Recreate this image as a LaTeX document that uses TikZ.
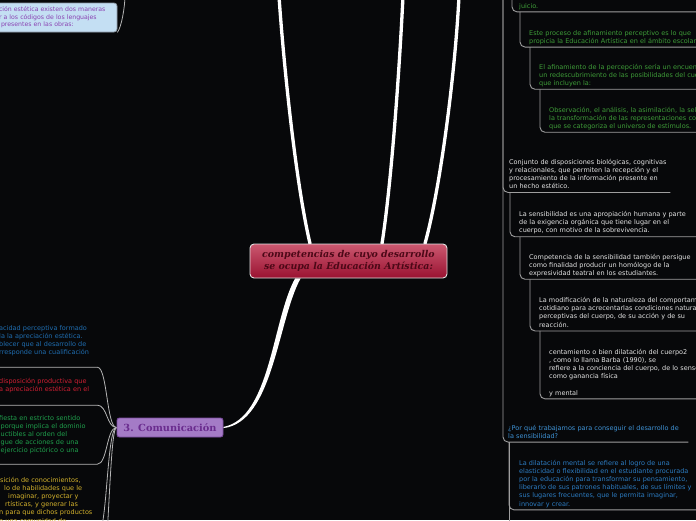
\documentclass[tikz,border=0pt]{standalone}
\usepackage{fontspec}
\setmainfont{DejaVu Sans}
\newfontfamily\dvserif{DejaVu Serif}
\usetikzlibrary{calc}
\definecolor{bg}{HTML}{07080A}
\definecolor{rline}{HTML}{9E9E9E}
\definecolor{lline}{HTML}{B5B5B5}
\definecolor{tgreen}{HTML}{3E9C38}
\definecolor{tgrey}{HTML}{E4E4E4}
\definecolor{tblue}{HTML}{3F93D6}
\definecolor{tblue2}{HTML}{2C7CC2}
\definecolor{lblue}{HTML}{1F6DB0}
\definecolor{lred}{HTML}{D21F33}
\definecolor{lgreen}{HTML}{1FA04C}
\definecolor{lyellow}{HTML}{D4B22C}
\definecolor{boxblue}{HTML}{C4DFF3}
\definecolor{boxline}{HTML}{8C98A4}
\definecolor{boxtext}{HTML}{8A42B2}
\definecolor{ctop}{HTML}{CB5870}
\definecolor{cbot}{HTML}{9A1231}
\definecolor{cborder}{HTML}{E2E2E2}
\definecolor{ctext}{HTML}{4C0817}
\definecolor{cfill}{HTML}{A47BC6}
\definecolor{cbord}{HTML}{7A4B9E}
\definecolor{ctxt}{HTML}{6A2C8E}
\pgfdeclarelayer{bgl}
\pgfdeclarelayer{conn}
\pgfsetlayers{bgl,conn,main}
\tikzset{
  txt/.style={anchor=base west, inner xsep=0pt, inner ysep=1.2pt, align=left,
    font=\fontsize{6.5}{8.2}\selectfont},
  rnode/.style={txt, text width=200pt},
  lnode/.style={txt, text width=98pt},
  rconn/.style={draw=rline, line width=0.9pt, rounded corners=5pt},
  lconn/.style={draw=lline, line width=0.8pt},
  trunk/.style={draw=white, line width=3.3pt, line cap=round},
  centre/.style={rectangle, rounded corners=4pt, draw=cborder, line width=0.9pt,
    top color=ctop, bottom color=cbot, minimum width=197pt, minimum height=34pt,
    inner sep=0pt, align=center, text=ctext,
    font=\dvserif\bfseries\itshape\fontsize{9.4}{12}\selectfont},
  commbox/.style={rectangle, rounded corners=2.5pt, draw=cbord, line width=0.9pt,
    fill=cfill, minimum width=106pt, minimum height=19pt, inner sep=0pt,
    text=ctxt, font=\dvserif\bfseries\fontsize{9.8}{12}\selectfont},
  topbox/.style={rectangle, rounded corners=3pt, draw=boxline, line width=0.8pt,
    fill=boxblue, minimum width=127pt, minimum height=29pt, text width=109pt,
    inner xsep=0pt, inner ysep=0pt, align=left, text=boxtext,
    font=\fontsize{6.2}{7.6}\selectfont},
}
\begin{document}
\begin{tikzpicture}[x=1pt,y=-1pt]
\useasboundingbox (0,0) rectangle (696,520);
\begin{pgfonlayer}{bgl}
\fill[bg] (0,0) rectangle (696,520);
\end{pgfonlayer}

% ---------- main nodes ----------
\node[centre] (c) at (348.5,261) {competencias de cuyo desarrollo\\se ocupa la Educación Artística:};
\node[commbox] (comm) at (170,427.5) {3. Comunicación};
\node[topbox] (tl) at (53.5,17.5) {ción estética existen dos maneras\\r a los códigos de los lenguajes\\\hspace*{2pt}presentes en las obras:};

% ---------- right side ----------
\node[rnode, text=tgreen] (juicio) at (519,8) {\strut juicio.\strut};
\node[rnode, text=tgreen] (este) at (529,35) {\strut Este proceso de afinamiento perceptivo es lo que\\propicia la Educación Artística en el ámbito escolar.\strut};
\node[rnode, text=tgreen] (afin) at (539,69) {\strut El afinamiento de la percepción sería un encuen\\un redescubrimiento de las posibilidades del cue\\que incluyen la:\strut};
\node[rnode, text=tgreen] (obs) at (549,112) {\strut Observación, el análisis, la asimilación, la sel\\la transformación de las representaciones co\\que se categoriza el universo de estímulos.\strut};

\node[rnode, text=tgrey, text width=161pt] (conj) at (509,164) {\strut Conjunto de disposiciones biológicas, cognitivas\\y relacionales, que permiten la recepción y el\\procesamiento de la información presente en\\un hecho estético.\strut};
\node[rnode, text=tgrey] (sens) at (519,216.5) {\strut La sensibilidad es una apropiación humana y parte\\de la exigencia orgánica que tiene lugar en el\\cuerpo, con motivo de la sobrevivencia.\strut};
\node[rnode, text=tgrey] (comp) at (529,259) {\strut Competencia de la sensibilidad también persigue\\como finalidad producir un homólogo de la\\expresividad teatral en los estudiantes.\strut};
\node[rnode, text=tgrey] (modif) at (539,302.5) {\strut La modificación de la naturaleza del comportam\\cotidiano para acrecentarlas condiciones natural\\perceptivas del cuerpo, de su acción y de su\\reacción.\strut};
\node[rnode, text=tgrey] (cent) at (549,354) {\strut centamiento o bien dilatación del cuerpo2\\, como lo llama Barba (1990), se\\refiere a la conciencia del cuerpo, de lo senso\\como ganancia física\\\strut\\y mental\strut};

\node[rnode, text=tblue, text width=180pt] (porque) at (508,430) {\strut ¿Por qué trabajamos para conseguir el desarrollo de\\la sensibilidad?\strut};
\node[rnode, text=tblue2, text width=180pt] (dil) at (519,465) {\strut La dilatación mental se refiere al logro de una\\elasticidad o flexibilidad en el estudiante procurada\\por la educación para transformar su pensamiento,\\liberarlo de sus patrones habituales, de sus límites y\\sus lugares frecuentes, que le permita imaginar,\\innovar y crear.\strut};

% ---------- left side ----------
\node[lnode, text=lblue, inner ysep=10pt] (lb) at (-1,330) {\strut acidad perceptiva formado\\la la apreciación estética.\\blecer que al desarrollo de\\rresponde una cualificación\strut};
\node[lnode, text=lred, inner ysep=11.3pt] (lr) at (-1,383) {\strut disposición productiva que\\a apreciación estética en el\strut};
\node[lnode, text=lgreen, inner ysep=8.7pt] (lg) at (-1,420) {\strut fiesta en estricto sentido\\\hspace*{1.5pt}porque implica el dominio\\\hspace*{1.5pt}uctibles al orden del\\\hspace*{1.5pt}gue de acciones de una\\\hspace*{1.5pt}ejercicio pictórico o una\strut};
\node[lnode, text=lyellow, inner ysep=10pt] (ly) at (-1,482) {\strut\hspace*{1pt}sición de conocimientos,\\\hspace*{5pt}lo de habilidades que le\\\hspace*{9pt}imaginar, proyectar y\\\hspace*{6pt}rtísticas, y generar las\\n para que dichos productos\\n una comunidad de\strut};

% ---------- free ends ----------
\coordinate (t1) at (279,-4);
\coordinate (t2) at (403,-4);
\coordinate (t3) at (459,-4);
\coordinate (mtop) at (503,-5);
\coordinate (jtop) at (512,-5);
\coordinate (pbot) at (509,530);
\coordinate (tlup) at (125,-5);
\coordinate (lnext) at (97,600);

\begin{pgfonlayer}{conn}
% thick white branches
\draw[trunk] ([xshift=-38.5pt]c.north) .. controls +(-15,-64) and +(4,60) .. (t1);
\draw[trunk] ([xshift=33.5pt]c.north) .. controls +(10,-64) and +(-3,63) .. (t2);
\draw[trunk] ([xshift=76.5pt]c.north) .. controls +(15,-54) and +(-4,80) .. (t3);
\fill[white] ($(c.south west)+(45.5,0)$) .. controls +(-23,42) and +(47,-9) .. ($(comm.east)+(0,-0.6)$)
  -- ($(comm.east)+(0,0.6)$) .. controls +(50,-6) and +(-23,42) .. ($(c.south west)+(51,0)$) -- cycle;

% right side connectors
\draw[rconn] (mtop) |- (conj.south east);
\draw[rconn] (mtop) |- (porque.south east);
\draw[rconn] (jtop) |- (juicio.south east);
\draw[rconn] ([xshift=1pt]juicio.south west) |- (este.south east);
\draw[rconn] ([xshift=1pt]este.south west) |- (afin.south east);
\draw[rconn] ([xshift=1pt]afin.south west) |- (obs.south east);
\draw[rconn] ([xshift=1pt]conj.south west) |- (sens.south east);
\draw[rconn] ([xshift=1pt]sens.south west) |- (comp.south east);
\draw[rconn] ([xshift=1pt]comp.south west) |- (modif.south east);
\draw[rconn] ([xshift=1pt]modif.south west) |- (cent.south east);
\draw[rconn] ([xshift=1pt]porque.south west) |- (dil.south east);
\draw[rconn] ([xshift=1pt]porque.south west) -- (pbot);

% left side connectors
\draw[lconn] (tl.south east) .. controls +(4,-5) and +(0,12) .. (tlup);
\draw[lconn] (comm.west) .. controls +(-10,0) and +(10,0) .. (lb.south east) -- ([xshift=-5pt]lb.south west);
\draw[lconn] (comm.west) .. controls +(-10,0) and +(10,0) .. (lr.south east) -- ([xshift=-5pt]lr.south west);
\draw[lconn] (comm.west) .. controls +(-10,0) and +(10,0) .. (lg.south east) -- ([xshift=-5pt]lg.south west);
\draw[lconn] (comm.west) .. controls +(-10,0) and +(10,0) .. (ly.south east) -- ([xshift=-5pt]ly.south west);
\draw[lconn] (comm.west) .. controls +(-8,0) and +(12,0) .. (lnext);
\end{pgfonlayer}
\end{tikzpicture}
\end{document}
